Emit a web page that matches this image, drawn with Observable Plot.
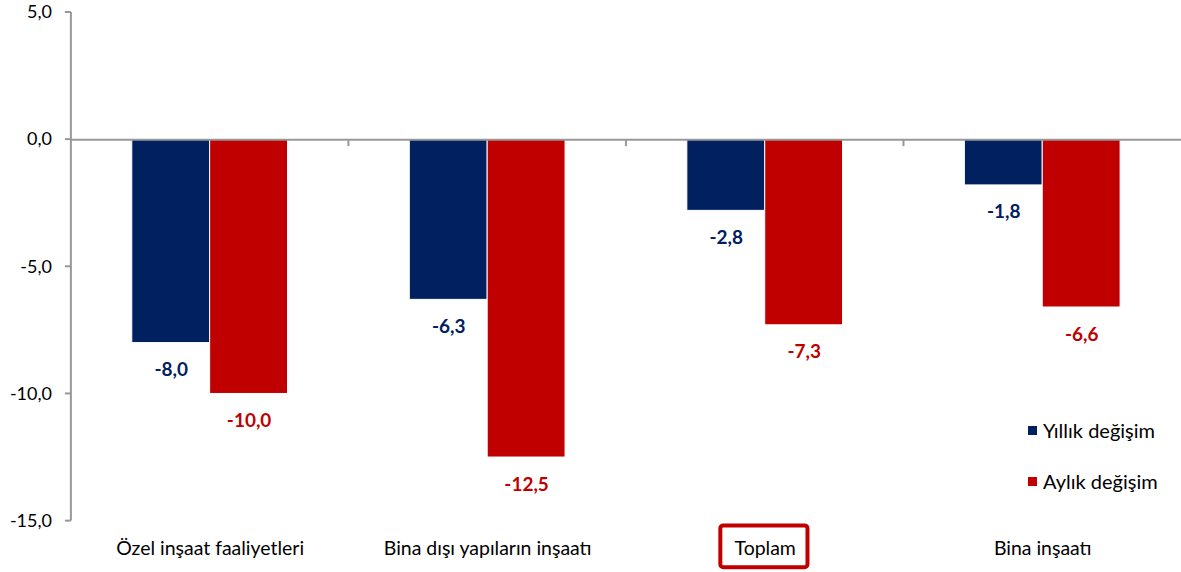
<!DOCTYPE html>
<html><head><meta charset="utf-8">
<script src="https://cdn.jsdelivr.net/npm/d3@7"></script>
<script src="https://cdn.jsdelivr.net/npm/@observablehq/plot@0.6"></script>
<style>
html,body{margin:0;padding:0;background:#fff;overflow:hidden}
#wrap{position:relative;width:1181px;height:572px;overflow:hidden;font-family:Lato,sans-serif}
.leg{position:absolute;left:1028px;display:flex;align-items:center;font-size:20px;color:#000;white-space:nowrap}
.leg i{display:inline-block;width:9px;height:9px;margin-right:6px}
</style></head><body><div id="wrap"></div>
<script>
const categories = ["Özel inşaat faaliyetleri", "Bina dışı yapıların inşaatı", "Toplam", "Bina inşaatı"];
const seriesNames = ["Yıllık değişim", "Aylık değişim"];
const annual = [-8.0, -6.3, -2.8, -1.8];
const monthly = [-10.0, -12.5, -7.3, -6.6];
const yTicks = [5, 0, -5, -10, -15];
const seriesColors = ["#002060", "#C00000"];
const highlighted = "Toplam";

const fmt = v => v.toFixed(1).replace(".", ",");
const data = categories.flatMap((c, i) => [
  {cat: c, series: seriesNames[0], value: annual[i]},
  {cat: c, series: seriesNames[1], value: monthly[i]}
]);

const chart = Plot.plot({
  width: 1183, height: 572,
  marginTop: 12, marginBottom: 50.5, marginLeft: 71, marginRight: 0,
  style: {fontFamily: "Lato, sans-serif", fontSize: "18px", color: "#000", background: "transparent", overflow: "visible"},
  fx: {domain: categories, padding: 0, axis: null},
  x: {domain: seriesNames, paddingInner: 0, paddingOuter: 0.782, axis: null},
  y: {domain: [-15, 5], axis: null},
  color: {domain: seriesNames, range: seriesColors},
  marks: [
    Plot.barY(data, {fx: "cat", x: "series", y: "value", fill: "series", stroke: "white", strokeWidth: 1}),
    Plot.ruleY([0], {stroke: "#989898", strokeWidth: 2}),
    Plot.text(data, {fx: "cat", x: "series", y: "value", text: d => fmt(d.value), dy: 27, fill: "series", fontWeight: "bold", fontSize: 19}),
    Plot.text(categories, {fx: d => d, text: d => d, frameAnchor: "bottom", lineAnchor: "middle", dy: 27.5, fill: "#000", fontSize: 19.5})
  ]
});

const wrap = document.getElementById("wrap");
wrap.appendChild(chart);

const svg = d3.select(chart);
const fx = chart.scale("fx");
const y = chart.scale("y");
const axisColor = "#989898";
const x0 = fx.apply(categories[0]);
// y axis line
svg.append("line").attr("x1", x0).attr("x2", x0)
  .attr("y1", y.apply(yTicks[0])).attr("y2", y.apply(yTicks[yTicks.length - 1]))
  .attr("stroke", axisColor).attr("stroke-width", 2);
// y ticks and labels
yTicks.forEach(t => {
  svg.append("line").attr("x1", x0 - 6).attr("x2", x0).attr("y1", y.apply(t)).attr("y2", y.apply(t))
    .attr("stroke", axisColor).attr("stroke-width", 2);
  svg.append("text").attr("x", x0 - 19).attr("y", y.apply(t)).attr("dy", "0.35em")
    .attr("text-anchor", "end").attr("font-size", 18).attr("fill", "#000").text(fmt(t));
});
// category boundary ticks on zero line
categories.slice(1).forEach(c => {
  const xb = fx.apply(c);
  svg.append("line").attr("x1", xb).attr("x2", xb).attr("y1", y.apply(0)).attr("y2", y.apply(0) + 7)
    .attr("stroke", axisColor).attr("stroke-width", 2);
});
// highlight box around "Toplam"
const svgRect = chart.getBoundingClientRect();
svg.selectAll("text").filter(function() { return this.textContent === highlighted; }).each(function() {
  const r = this.getBoundingClientRect();
  const cx = (r.left + r.right) / 2 - svgRect.left;
  const cy = (r.top + r.bottom) / 2 - svgRect.top;
  const w = r.width + 26, h = 42;
  svg.append("rect").attr("x", cx - w / 2).attr("y", cy - h / 2).attr("width", w).attr("height", h)
    .attr("rx", 3).attr("fill", "none").attr("stroke", "#C00000").attr("stroke-width", 4);
});

// legend
const legendTops = [430, 481];
seriesNames.forEach((s, i) => {
  const d = document.createElement("div");
  d.className = "leg";
  d.style.top = (legendTops[i] - 12) + "px";
  d.style.height = "24px";
  d.innerHTML = `<i style="background:${seriesColors[i]}"></i><span>${s}</span>`;
  wrap.appendChild(d);
});
</script>
</body></html>
